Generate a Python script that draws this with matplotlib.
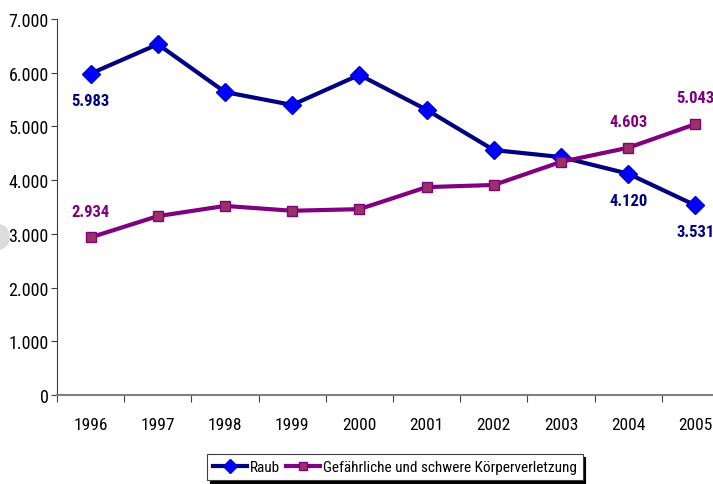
import matplotlib.pyplot as plt
from matplotlib.patches import Ellipse
from matplotlib.ticker import FuncFormatter

years = ["1996", "1997", "1998", "1999", "2000", "2001", "2002", "2003", "2004", "2005"]
raub = [5983, 6530, 5640, 5400, 5960, 5310, 4560, 4430, 4120, 3531]
koerper = [2934, 3330, 3520, 3430, 3460, 3870, 3910, 4340, 4603, 5043]

# which points get a value label, and whether above or below
raub_labels = {0: "below", 8: "below", 9: "below"}
koerper_labels = {0: "above", 8: "above", 9: "above"}

plt.rcParams["font.family"] = ["Roboto Condensed", "Liberation Sans", "DejaVu Sans"]
plt.rcParams["font.stretch"] = "condensed"

fig = plt.figure(figsize=(7.13, 4.85), dpi=100)
ax = fig.add_axes([57 / 713, 1 - 396 / 485, 672 / 713, 376 / 485])

x = list(range(len(years)))
ax.plot(x, raub, color="#000080", lw=3, marker="D", ms=9,
        mfc="#0000FF", mec="#0000CC", label="Raub", zorder=3)
ax.plot(x, koerper, color="#800080", lw=3, marker="s", ms=7.5,
        mfc="#993366", mec="#800080", label="Gefährliche und schwere Körperverletzung", zorder=3)

def fmt(v):
    return f"{v:,.0f}".replace(",", ".")

for i, pos in raub_labels.items():
    off = -19 if pos == "below" else 19
    ax.annotate(fmt(raub[i]), (x[i], raub[i]), xytext=(0, off), textcoords="offset points",
                ha="center", va="center", color="#000080", fontsize=12, fontweight="bold")
for i, pos in koerper_labels.items():
    off = -19 if pos == "below" else 19
    ax.annotate(fmt(koerper[i]), (x[i], koerper[i]), xytext=(0, off), textcoords="offset points",
                ha="center", va="center", color="#800080", fontsize=12, fontweight="bold")

ax.set_xlim(-0.5, len(years) - 0.5)
ax.set_ylim(0, 7000)
ax.set_yticks(range(0, 7001, 1000))
ax.yaxis.set_major_formatter(FuncFormatter(lambda v, p: fmt(v)))
ax.set_xticks([i - 0.5 for i in range(len(years) + 1)])
ax.set_xticklabels([])
ax.set_xticks(x, minor=True)
ax.set_xticklabels(years, minor=True)
ax.tick_params(axis="x", which="major", length=5, direction="out", color="#404040")
ax.tick_params(axis="x", which="minor", length=0, pad=16, labelsize=12.5)
ax.tick_params(axis="y", length=4, direction="out", labelsize=13, color="#404040", pad=2)

for s in ["top", "right"]:
    ax.spines[s].set_visible(False)
ax.spines["left"].set_color("#404040")
ax.spines["bottom"].set_color("#808080")
ax.spines["bottom"].set_linewidth(1.5)

leg = fig.legend(loc="upper left", bbox_to_anchor=(207 / 713, 1 - 455 / 485), ncol=2,
                 frameon=True, fancybox=False, shadow={"color": "black", "alpha": 1},
                 fontsize=11, handlelength=2.2, handletextpad=0.2, columnspacing=0.4,
                 borderpad=0.4, borderaxespad=0, edgecolor="#404040", markerscale=0.75)
leg.get_frame().set_linewidth(0.8)

fig.patches.append(Ellipse((-0.002, 1 - 238 / 485), 0.03, 0.05, transform=fig.transFigure,
                           color="#dcdcdc", zorder=0))

fig.savefig("out.png", dpi=100)
